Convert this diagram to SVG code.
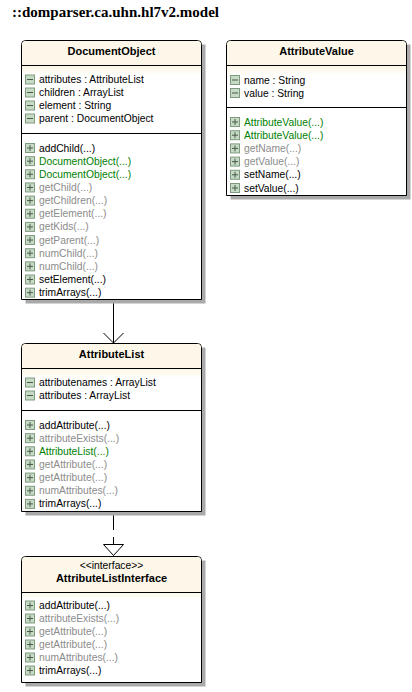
<svg xmlns="http://www.w3.org/2000/svg" width="412" height="692" viewBox="0 0 412 692">
<style>
.shadow{fill:#a9a9a9}
.box{fill:#fff;stroke:#000;stroke-width:1}
.hdr{fill:url(#hg)}
.sep{stroke:#000;stroke-width:1;fill:none}
.pkg{font-family:"Liberation Serif","Times New Roman",serif;font-size:15px;font-weight:bold;fill:#000}
.t{font-family:"Liberation Sans",Arial,sans-serif;font-size:10.3px}
.ttl{font-family:"Liberation Sans",Arial,sans-serif;font-size:11px;font-weight:bold;text-anchor:middle;fill:#000}
.st{font-family:"Liberation Sans",Arial,sans-serif;font-size:10.3px;text-anchor:middle;fill:#000}
.k{fill:#000}.g{fill:#008000}.m{fill:#8c8c8c}
.conn{stroke:#000;stroke-width:1;fill:none}
</style>
<defs>
<linearGradient id="hg" x1="0" y1="0" x2="0" y2="1">
<stop offset="0" stop-color="#fdf7e9"/>
<stop offset="0.78" stop-color="#fdf7e9"/>
<stop offset="1" stop-color="#ffffff"/>
</linearGradient>
<g id="mi"><rect x="0.5" y="-0.5" width="9" height="9" fill="#c6dac6" stroke="#7f9b7f"/><rect x="2" y="3.5" width="6" height="1" fill="#4a5a4a"/></g>
<g id="pl"><rect x="0.5" y="-0.5" width="9" height="9" fill="#c6dac6" stroke="#7f9b7f"/><rect x="2" y="3.5" width="6" height="1" fill="#4a5a4a"/><rect x="4.5" y="1" width="1" height="6" fill="#4a5a4a"/></g>
</defs>

<text class="pkg" x="12" y="17">::domparser.ca.uhn.hl7v2.model</text>

<g id="connectors">
<line class="conn" x1="113.5" y1="300" x2="113.5" y2="343"/>
<polyline class="conn" points="103.5,333 113.5,343 123.5,333"/>
<line class="conn" x1="113.5" y1="515" x2="113.5" y2="544" stroke-dasharray="15 7"/>
<polygon points="103.5,544.5 123.5,544.5 113.5,555.5" fill="#fff" stroke="#000" stroke-width="1"/>
</g>

<g id="DocumentObject" transform="translate(21.5,40.5)">
<rect class="shadow" x="4" y="4" width="180" height="259"/>
<path class="box" d="M0,259 V4 Q0,0 4,0 H176 Q180,0 180,4 V259 Z"/>
<path class="hdr" d="M0.5,35 V4 Q0.5,0.5 4,0.5 H176 Q179.5,0.5 179.5,4 V35 Z"/>
<line class="sep" x1="0" y1="25" x2="180" y2="25"/>
<line class="sep" x1="0" y1="93" x2="180" y2="93"/>
<text class="ttl" x="90" y="14.5">DocumentObject</text>
<use href="#mi" x="3.5" y="35"/><text class="t k" x="17.5" y="42.5">attributes : AttributeList</text>
<use href="#mi" x="3.5" y="48"/><text class="t k" x="17.5" y="55.5">children : ArrayList</text>
<use href="#mi" x="3.5" y="61"/><text class="t k" x="17.5" y="68.5">element : String</text>
<use href="#mi" x="3.5" y="74"/><text class="t k" x="17.5" y="81.5">parent : DocumentObject</text>
<use href="#pl" x="3.5" y="103.5"/><text class="t k" x="17.5" y="111">addChild(...)</text>
<use href="#pl" x="3.5" y="116.65"/><text class="t g" x="17.5" y="124.15">DocumentObject(...)</text>
<use href="#pl" x="3.5" y="129.8"/><text class="t g" x="17.5" y="137.3">DocumentObject(...)</text>
<use href="#pl" x="3.5" y="142.95"/><text class="t m" x="17.5" y="150.45">getChild(...)</text>
<use href="#pl" x="3.5" y="156.1"/><text class="t m" x="17.5" y="163.6">getChildren(...)</text>
<use href="#pl" x="3.5" y="169.25"/><text class="t m" x="17.5" y="176.75">getElement(...)</text>
<use href="#pl" x="3.5" y="182.4"/><text class="t m" x="17.5" y="189.9">getKids(...)</text>
<use href="#pl" x="3.5" y="195.55"/><text class="t m" x="17.5" y="203.05">getParent(...)</text>
<use href="#pl" x="3.5" y="208.7"/><text class="t m" x="17.5" y="216.2">numChild(...)</text>
<use href="#pl" x="3.5" y="221.85"/><text class="t m" x="17.5" y="229.35">numChild(...)</text>
<use href="#pl" x="3.5" y="235"/><text class="t k" x="17.5" y="242.5">setElement(...)</text>
<use href="#pl" x="3.5" y="248.15"/><text class="t k" x="17.5" y="255.65">trimArrays(...)</text>
</g>

<g id="AttributeValue" transform="translate(226.5,40.5)">
<rect class="shadow" x="4" y="4" width="180" height="155"/>
<path class="box" d="M0,155 V4 Q0,0 4,0 H176 Q180,0 180,4 V155 Z"/>
<path class="hdr" d="M0.5,35 V4 Q0.5,0.5 4,0.5 H176 Q179.5,0.5 179.5,4 V35 Z"/>
<line class="sep" x1="0" y1="25" x2="180" y2="25"/>
<line class="sep" x1="0" y1="67" x2="180" y2="67"/>
<text class="ttl" x="90" y="14.5">AttributeValue</text>
<use href="#mi" x="3.5" y="35.5"/><text class="t k" x="17.5" y="43">name : String</text>
<use href="#mi" x="3.5" y="48.5"/><text class="t k" x="17.5" y="56">value : String</text>
<use href="#pl" x="3.5" y="77.5"/><text class="t g" x="17.5" y="85">AttributeValue(...)</text>
<use href="#pl" x="3.5" y="90.7"/><text class="t g" x="17.5" y="98.2">AttributeValue(...)</text>
<use href="#pl" x="3.5" y="103.9"/><text class="t m" x="17.5" y="111.4">getName(...)</text>
<use href="#pl" x="3.5" y="117.1"/><text class="t m" x="17.5" y="124.6">getValue(...)</text>
<use href="#pl" x="3.5" y="130.3"/><text class="t k" x="17.5" y="137.8">setName(...)</text>
<use href="#pl" x="3.5" y="143.5"/><text class="t k" x="17.5" y="151">setValue(...)</text>
</g>

<g id="AttributeList" transform="translate(21.5,343.5)">
<rect class="shadow" x="4" y="4" width="180" height="168"/>
<path class="box" d="M0,168 V4 Q0,0 4,0 H176 Q180,0 180,4 V168 Z"/>
<path class="hdr" d="M0.5,35 V4 Q0.5,0.5 4,0.5 H176 Q179.5,0.5 179.5,4 V35 Z"/>
<line class="sep" x1="0" y1="25" x2="180" y2="25"/>
<line class="sep" x1="0" y1="67" x2="180" y2="67"/>
<text class="ttl" x="90" y="14.5">AttributeList</text>
<use href="#mi" x="3.5" y="35"/><text class="t k" x="17.5" y="42.5">attributenames : ArrayList</text>
<use href="#mi" x="3.5" y="48"/><text class="t k" x="17.5" y="55.5">attributes : ArrayList</text>
<use href="#pl" x="3.5" y="77.5"/><text class="t k" x="17.5" y="85">addAttribute(...)</text>
<use href="#pl" x="3.5" y="90.65"/><text class="t m" x="17.5" y="98.15">attributeExists(...)</text>
<use href="#pl" x="3.5" y="103.8"/><text class="t g" x="17.5" y="111.3">AttributeList(...)</text>
<use href="#pl" x="3.5" y="116.95"/><text class="t m" x="17.5" y="124.45">getAttribute(...)</text>
<use href="#pl" x="3.5" y="130.1"/><text class="t m" x="17.5" y="137.6">getAttribute(...)</text>
<use href="#pl" x="3.5" y="143.25"/><text class="t m" x="17.5" y="150.75">numAttributes(...)</text>
<use href="#pl" x="3.5" y="156.4"/><text class="t k" x="17.5" y="163.9">trimArrays(...)</text>
</g>

<g id="AttributeListInterface" transform="translate(21.5,556.5)">
<rect class="shadow" x="4" y="4" width="180" height="126"/>
<path class="box" d="M0,126 V4 Q0,0 4,0 H176 Q180,0 180,4 V126 Z"/>
<path class="hdr" d="M0.5,44 V4 Q0.5,0.5 4,0.5 H176 Q179.5,0.5 179.5,4 V44 Z"/>
<line class="sep" x1="0" y1="36" x2="180" y2="36"/>
<text class="st" x="90" y="12">&lt;&lt;interface&gt;&gt;</text>
<text class="ttl" x="90" y="25">AttributeListInterface</text>
<use href="#pl" x="3.5" y="45"/><text class="t k" x="17.5" y="52.5">addAttribute(...)</text>
<use href="#pl" x="3.5" y="58"/><text class="t m" x="17.5" y="65.5">attributeExists(...)</text>
<use href="#pl" x="3.5" y="71"/><text class="t m" x="17.5" y="78.5">getAttribute(...)</text>
<use href="#pl" x="3.5" y="84"/><text class="t m" x="17.5" y="91.5">getAttribute(...)</text>
<use href="#pl" x="3.5" y="97"/><text class="t m" x="17.5" y="104.5">numAttributes(...)</text>
<use href="#pl" x="3.5" y="110"/><text class="t k" x="17.5" y="117.5">trimArrays(...)</text>
</g>
</svg>
